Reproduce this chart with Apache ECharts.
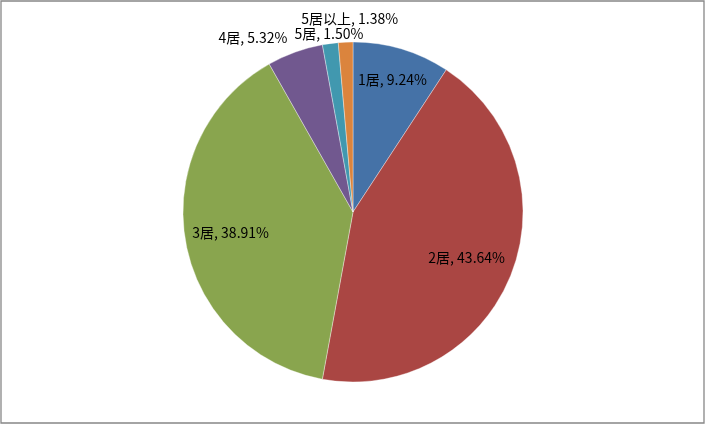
<!DOCTYPE html>
<html><head><meta charset="utf-8">
<script src="https://cdn.jsdelivr.net/npm/echarts@6/dist/echarts.min.js"></script>
<style>html,body{margin:0;padding:0;background:#fff}#c{width:706px;height:425px}</style>
</head><body><div id="c"></div>
<script>
const categories = ['1居', '2居', '3居', '4居', '5居', '5居以上'];
const values = [9.24, 43.64, 38.91, 5.32, 1.50, 1.38];
const colors = ['#4572A7', '#AA4643', '#89A54E', '#71588F', '#4198AF', '#DB843D'];
// label placement style: radial factor and angular shift (degrees)
const labelRadius = [0.81, 0.72, 0.73, 1.18, 1.06, 1.14];
const labelShift = [0, 0, 0, -10, 0, 1.5];

const CX = 353, CY = 212, R = 170;
const total = values.reduce((a, b) => a + b, 0);
const midAngles = [];
let acc = 0;
values.forEach(v => { midAngles.push((acc + v / 2) / total * 360); acc += v; });

const chart = echarts.init(document.getElementById('c'));
chart.setOption({
  animation: false,
  graphic: [{
    type: 'rect', z: 100, silent: true,
    shape: { x: 1, y: 1, width: 703, height: 422 },
    style: { fill: 'none', stroke: '#878787', lineWidth: 1.3 }
  }],
  series: [{
    type: 'pie',
    center: [CX, CY],
    radius: [0, R],
    startAngle: 90,
    clockwise: true,
    data: categories.map((n, i) => ({ name: n, value: values[i], itemStyle: { color: colors[i] } })),
    itemStyle: { borderColor: 'rgba(255,255,255,0.6)', borderWidth: 0.6 },
    label: {
      show: true,
      position: 'inside',
      color: '#000',
      fontSize: 14,
      fontFamily: '"Noto Sans CJK SC", "Noto Sans", sans-serif',
      formatter: p => p.name + ', ' + values[p.dataIndex].toFixed(2) + '%'
    },
    labelLine: { show: false },
    labelLayout: p => {
      const i = p.dataIndex;
      const a = (midAngles[i] + labelShift[i]) * Math.PI / 180;
      const r = R * labelRadius[i];
      return { x: CX + r * Math.sin(a), y: CY - r * Math.cos(a), align: 'center', verticalAlign: 'middle' };
    }
  }]
});
</script></body></html>
